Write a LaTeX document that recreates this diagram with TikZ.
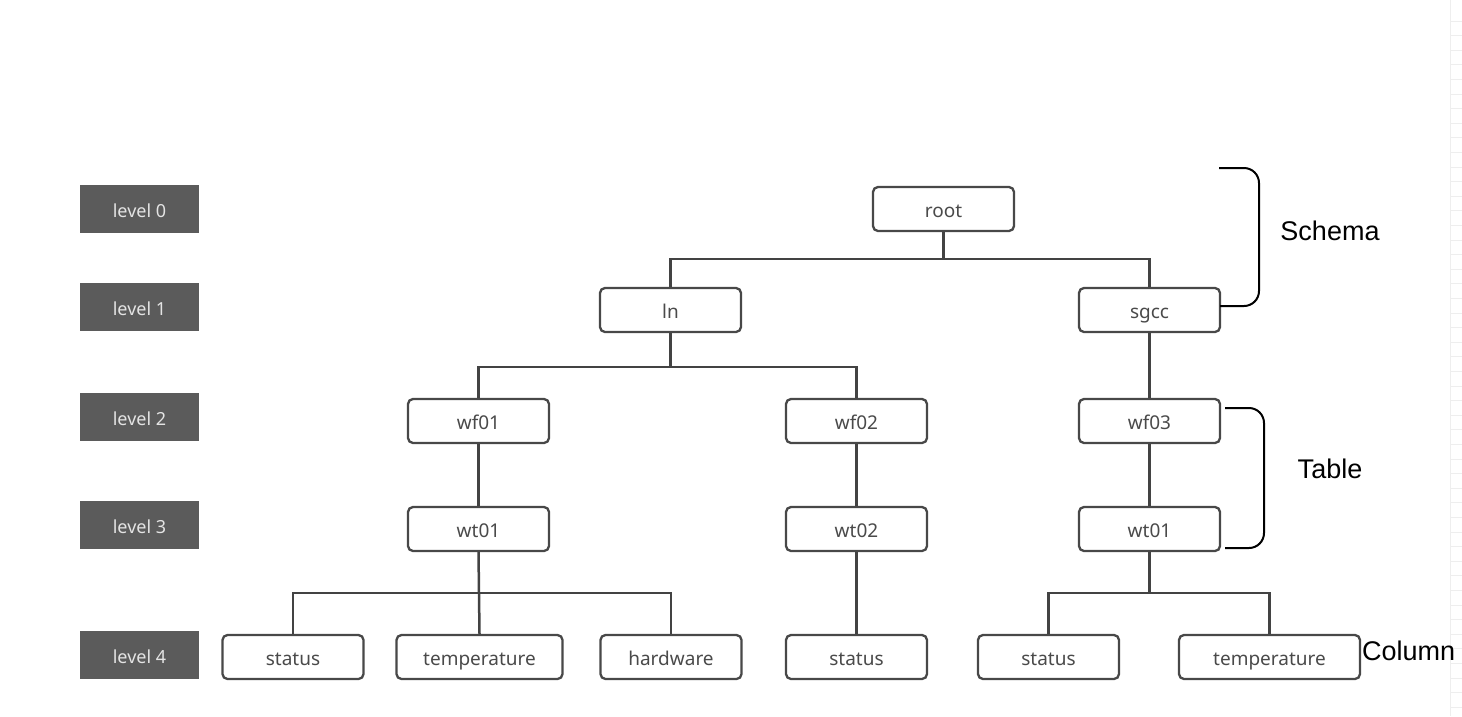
\documentclass[tikz,border=0pt]{standalone}
\usepackage{fontspec}
\newfontfamily\nodefont{Noto Sans}
\newfontfamily\labfont{Liberation Sans}
\definecolor{lvlgray}{HTML}{5B5B5B}
\definecolor{lvltext}{HTML}{E4E4E4}
\definecolor{boxgray}{HTML}{484848}
\definecolor{txtgray}{HTML}{4A4A4A}
\definecolor{linegray}{HTML}{434343}
\definecolor{rulergray}{HTML}{EEEEEE}
\tikzset{
  lvl/.style={fill=lvlgray, draw=none, minimum width=119pt, minimum height=48pt, inner sep=0pt,
    text=lvltext, font=\nodefont\fontsize{18}{20}\selectfont, text height=19pt, text depth=3pt},
  box/.style={draw=boxgray, line width=2.3pt, rounded corners=5pt, fill=white,
    minimum width=141pt, minimum height=44pt, inner sep=0pt, text=txtgray,
    font=\nodefont\fontsize{19}{22}\selectfont, text height=19pt, text depth=3pt},
  conn/.style={draw=linegray, line width=2.5pt},
  brace/.style={draw=black, line width=2pt, rounded corners=15pt},
  lab/.style={text=black, font=\labfont\fontsize{27}{30}\selectfont, inner sep=0pt}
}
\begin{document}
\begin{tikzpicture}[x=1pt,y=-1pt]
\useasboundingbox[fill=white] (0,0) rectangle (1462,716);
% faint ruler at right edge
\draw[rulergray, line width=1pt] (1450,0) -- (1450,716);
\foreach \i in {0,...,47} {
  \pgfmathsetmacro{\yy}{21+14.6*\i}
  \draw[rulergray, line width=1pt] (1450,\yy) -- (1462,\yy);
}
% level boxes
\node[lvl] (l0) at (139.5,209) {level 0};
\node[lvl] (l1) at (139.5,307) {level 1};
\node[lvl] (l2) at (139.5,417) {level 2};
\node[lvl] (l3) at (139.5,525) {level 3};
\node[lvl] (l4) at (139.5,655) {level 4};
% tree nodes
\node[box] (root) at (943.5,209) {root};
\node[box] (ln) at (670.5,310) {ln};
\node[box] (sgcc) at (1149.5,310) {sgcc};
\node[box] (wf01) at (478.5,421) {wf01};
\node[box] (wf02) at (856.5,421) {wf02};
\node[box] (wf03) at (1149.5,421) {wf03};
\node[box] (wt01) at (478.5,529) {wt01};
\node[box] (wt02) at (856.5,529) {wt02};
\node[box] (wt01b) at (1149.5,529) {wt01};
\node[box] (c1) at (293,657) {status};
\node[box, minimum width=166pt] (c2) at (479.5,657) {temperature};
\node[box] (c3) at (671,657) {hardware};
\node[box] (c4) at (856.5,657) {status};
\node[box] (c5) at (1048.5,657) {status};
\node[box, minimum width=181pt] (c6) at (1269.5,657) {temperature};
% junction points
\coordinate (j0) at (943.5,259);
\coordinate (j1) at (670.5,367);
\coordinate (j2) at (478.5,593);
\coordinate (j3) at (1149.5,593);
% connectors
\draw[conn] (root.south) -- (j0);
\draw[conn] (ln.north) |- (j0) -| (sgcc.north);
\draw[conn] (ln.south) -- (j1);
\draw[conn] (wf01.north) |- (j1) -| (wf02.north);
\draw[conn] (sgcc.south) -- (wf03.north);
\draw[conn] (wf01.south) -- (wt01.north);
\draw[conn] (wf02.south) -- (wt02.north);
\draw[conn] (wf03.south) -- (wt01b.north);
\draw[conn] (wt02.south) -- (c4.north);
\draw[conn] (wt01.south) -- (c2.north);
\draw[conn] (c1.north) |- (j2) -| (c3.north);
\draw[conn] (wt01b.south) -- (j3);
\draw[conn] (c5.north) |- (j3) -| (c6.north);
% braces
\draw[brace] (1219,168) -- (1259,168) -- (1259,306) -- (1220,306);
\draw[brace] (1225,408) -- (1264,408) -- (1264,548) -- (1225,548);
% labels
\node[lab] (schema) at (1330,231) {Schema};
\node[lab] (table) at (1330,469) {Table};
\node[lab, anchor=west] (column) at (1362,651) {Column};
\end{tikzpicture}
\end{document}
